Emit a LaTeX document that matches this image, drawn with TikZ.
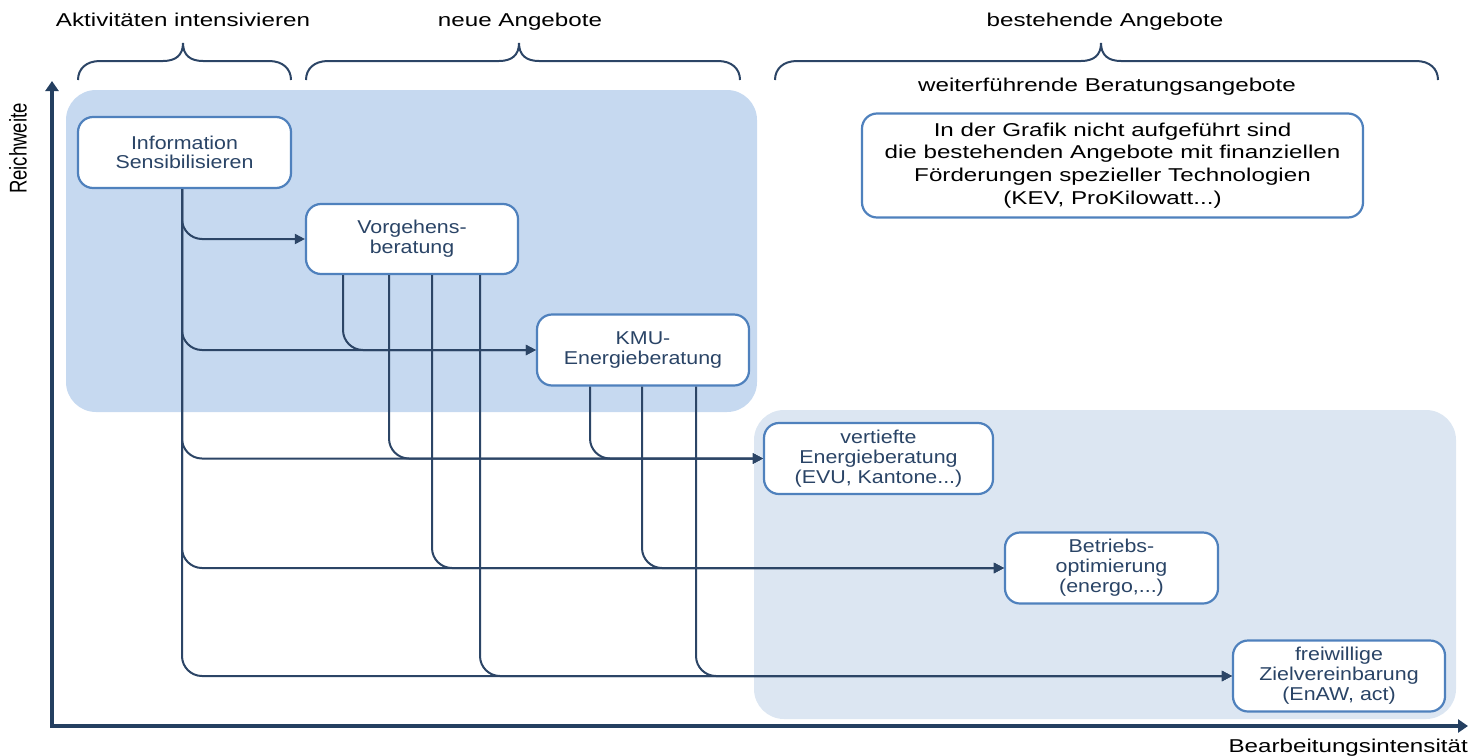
\documentclass[tikz,border=0pt]{standalone}
\usepackage{fontspec}
\setmainfont{Liberation Sans}
\newfontfamily\fwide[FakeStretch=1.3]{Liberation Sans}
\newfontfamily\fnode[FakeStretch=1.15]{Liberation Sans}
\usetikzlibrary{arrows.meta}
\definecolor{lineC}{HTML}{2C4566}
\definecolor{axisC}{HTML}{243F60}
\definecolor{boxC}{HTML}{4F81BD}
\definecolor{txtC}{HTML}{2A4466}
\definecolor{regA}{HTML}{C6D9F0}
\definecolor{regB}{HTML}{DCE6F2}
\begin{document}
\begin{tikzpicture}[x=1pt,y=-1pt,
  box/.style={draw=boxC, line width=2.2pt, fill=white, rounded corners=15pt, align=center, inner sep=0pt, font=\fnode\fontsize{18.6}{20}\selectfont, text=txtC},
  notebox/.style={box, text=black, font=\fwide\fontsize{18.6}{22.7}\selectfont},
  conn/.style={draw=lineC, line width=2pt, rounded corners=20pt, -{Triangle[length=10pt,width=10pt]}},
  hdr/.style={font=\fwide\fontsize{18.6}{22.7}\selectfont, text=black, inner sep=0pt},
  brc/.style={draw=lineC, line width=2pt},
  axis/.style={draw=axisC, line width=3.5pt, -{Triangle[length=10pt,width=13pt]}},
  region/.style={rounded corners=30pt}
]
\useasboundingbox (0,0) rectangle (1471,755);

% regions
\fill[regB, region] (754,410) rectangle (1456,719);
\fill[regA, region] (66,90) rectangle (757,412);

% headers
\node[hdr, anchor=base] (h1) at (183,26.5) {Aktivitäten intensivieren};
\node[hdr, anchor=base] (h2) at (520,26.5) {neue Angebote};
\node[hdr, anchor=base] (h3) at (1105,26.5) {bestehende Angebote};
\node[hdr, anchor=base] (h4) at (1107,91.5) {weiterführende Beratungsangebote};

% braces
\foreach \L/\T/\R in {78/183/291, 306/519/740, 775/1101/1438}{
  \draw[brc] (\L,80) .. controls (\L,69) and (\L+8,61) .. (\L+22,61) -- (\T-20,61)
    .. controls (\T-7,61) and (\T,55) .. (\T,43) .. controls (\T,55) and (\T+7,61) .. (\T+20,61)
    -- (\R-22,61) .. controls (\R-8,61) and (\R,69) .. (\R,80);
}

% nodes
\node[box, minimum width=213pt, minimum height=71pt, font=\fnode\fontsize{18.6}{18.5}\selectfont] (info) at (184.5,152.5) {Information\\Sensibilisieren};
\node[box, minimum width=212pt, minimum height=70pt] (vorg) at (412,239) {Vorgehens-\\beratung};
\node[box, minimum width=212pt, minimum height=71pt] (kmu) at (643,350) {KMU-\\Energieberatung};
\node[box, minimum width=229pt, minimum height=71pt] (vert) at (878.5,458.5) {vertiefte\\Energieberatung\\(EVU, Kantone...)};
\node[box, minimum width=213pt, minimum height=71pt] (betr) at (1111.5,568) {Betriebs-\\optimierung\\(energo,...)};
\node[box, minimum width=212pt, minimum height=71pt] (frei) at (1339,676) {freiwillige\\Zielvereinbarung\\(EnAW, act)};
\node[notebox, minimum width=501pt, minimum height=104pt] (note) at (1112.5,165.5) {In der Grafik nicht aufgeführt sind\\die bestehenden Angebote mit finanziellen\\Förderungen spezieller Technologien\\(KEV, ProKilowatt...)};

% connectors from Information
\foreach \t in {vorg,kmu,vert,betr,frei}{
  \draw[conn] ([xshift=-2.5pt]info.south) |- (\t.west);
}
% connectors from Vorgehensberatung
\draw[conn] ([xshift=-69pt]vorg.south) |- (kmu.west);
\draw[conn] ([xshift=-23pt]vorg.south) |- (vert.west);
\draw[conn] ([xshift=20pt]vorg.south) |- (betr.west);
\draw[conn] ([xshift=68pt]vorg.south) |- (frei.west);
% connectors from KMU
\draw[conn] ([xshift=-53pt]kmu.south) |- (vert.west);
\draw[conn] ([xshift=-1pt]kmu.south) |- (betr.west);
\draw[conn] ([xshift=53pt]kmu.south) |- (frei.west);

% axes
\coordinate (O) at (52,726);
\coordinate (ytip) at (52,81);
\coordinate (xtip) at (1468,726);
\draw[axis] (O) -- (ytip);
\draw[axis] ([xshift=-1.75pt]O) -- (xtip);
\node[inner sep=0pt, rotate=90] (ylab) at (18,148.5) {\scalebox{1}[1.3]{\fontsize{18.6}{22}\selectfont Reichweite}};
\node[hdr, anchor=base east] (xlab) at (1468,752) {Bearbeitungsintensität};
\end{tikzpicture}
\end{document}
